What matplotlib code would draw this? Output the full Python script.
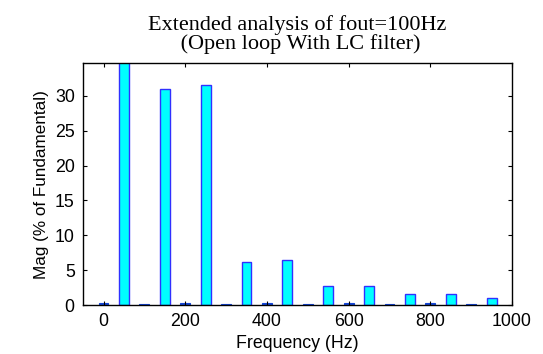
import numpy as np
import matplotlib
matplotlib.use("Agg")
import matplotlib.pyplot as plt

# harmonic spectrum values
even_freq = [0, 100, 200, 300, 400, 500, 600, 700, 800, 900]
even_mag = [0.3, 0.2, 0.25, 0.2, 0.25, 0.2, 0.25, 0.2, 0.25, 0.2]
odd_freq = [50, 150, 250, 350, 450, 550, 650, 750, 850, 950]
odd_mag = [100.0, 31.0, 31.6, 6.2, 6.4, 2.8, 2.8, 1.6, 1.6, 1.0]

fig = plt.figure(figsize=(5.43, 3.54), dpi=100)
ax = fig.add_axes([0.153, 0.138, 0.79, 0.684])

ax.bar(even_freq, even_mag, width=24, color='#1446d8', edgecolor='#1446d8', linewidth=0.8)
ax.bar(odd_freq, odd_mag, width=24, color='#00ffff', edgecolor='#3030ff', linewidth=1.0)

ax.set_xlim(-50, 1000)
ax.set_ylim(0, 34.7)
ax.set_xticks([0, 200, 400, 600, 800, 1000])
ax.set_yticks([0, 5, 10, 15, 20, 25, 30])
ax.tick_params(direction='in', top=True, right=True, length=3, labelsize=12.8, pad=6)
for lab in ax.get_xticklabels() + ax.get_yticklabels():
    lab.set_family('Liberation Sans')
for s in ax.spines.values():
    s.set_linewidth(1.0)

ax.set_xlabel('Frequency (Hz)', family='Liberation Sans', fontsize=12.8, labelpad=3)
ax.set_ylabel('Mag (% of Fundamental)', family='Liberation Sans', fontsize=12.3, labelpad=4)
ax.set_title('Extended analysis of fout=100Hz\n (Open loop With LC filter)',
             family='Liberation Serif', fontsize=16, pad=10, linespacing=0.95)

plt.savefig('out.png', dpi=100)
